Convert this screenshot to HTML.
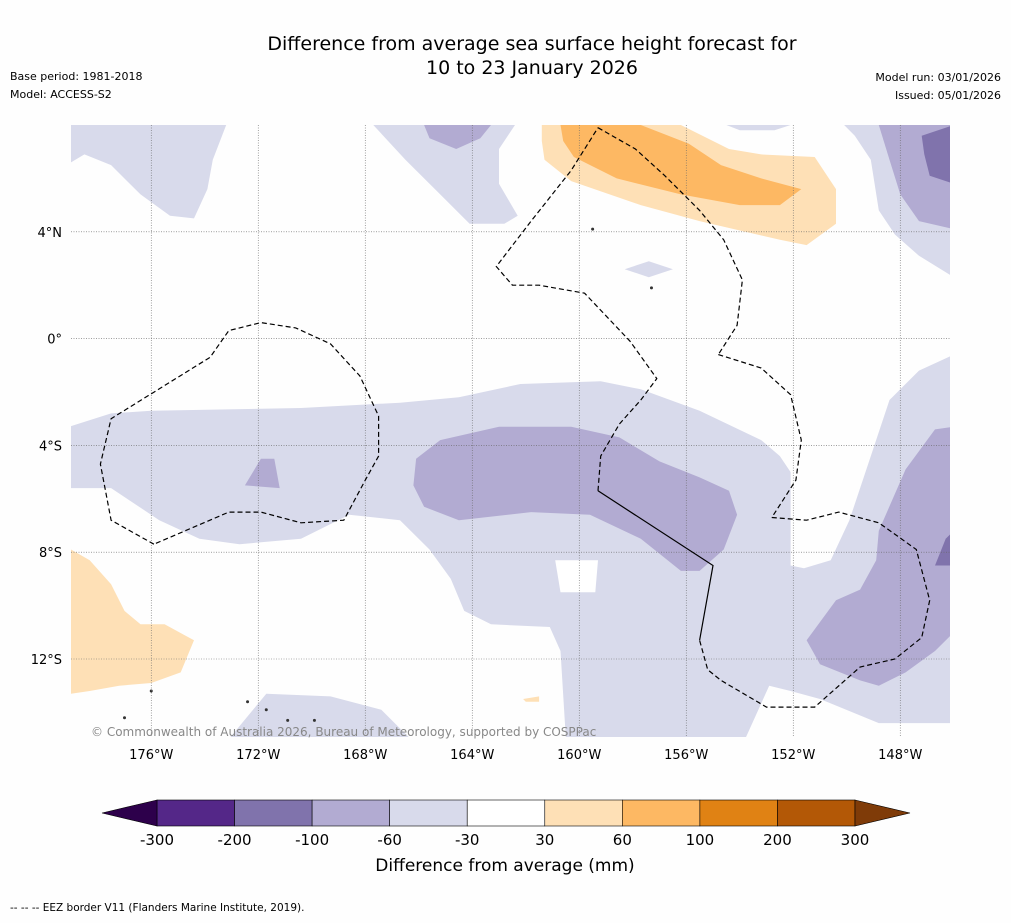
<!DOCTYPE html>
<html><head><meta charset="utf-8">
<style>
body{margin:0;background:#fefefe;font-family:"DejaVu Sans","Liberation Sans",sans-serif;}
svg text{font-family:"DejaVu Sans","Liberation Sans",sans-serif;}
</style></head>
<body>
<svg id="s" width="1011" height="919" viewBox="0 0 1011 919" xmlns="http://www.w3.org/2000/svg">
<rect width="1011" height="919" fill="#fefefe"/>
<text x="532" y="50" text-anchor="middle" font-size="19" fill="#000">Difference from average sea surface height forecast for</text>
<text x="532" y="74" text-anchor="middle" font-size="19" fill="#000">10 to 23 January 2026</text>
<text x="10" y="80" font-size="11">Base period: 1981-2018</text>
<text x="10" y="98" font-size="11">Model: ACCESS-S2</text>
<text x="1001" y="81" font-size="11" text-anchor="end">Model run: 03/01/2026</text>
<text x="1001" y="99" font-size="11" text-anchor="end">Issued: 05/01/2026</text>
<defs><clipPath id="mc"><rect x="71" y="125" width="879" height="612"/></clipPath></defs>
<g id="map" clip-path="url(#mc)"></g>
<g id="grid"></g>
<g id="eez" clip-path="url(#mc)"></g>
<text x="91" y="736" font-size="12" fill="#888">© Commonwealth of Australia 2026, Bureau of Meteorology, supported by COSPPac</text>
<g id="cbar"></g>
<text x="505" y="871" text-anchor="middle" font-size="17">Difference from average (mm)</text>
<text x="10" y="911" font-size="10.5">--  --  -- EEZ border V11 (Flanders Marine Institute, 2019).</text>
</svg>
<script>
const lonTicks=[-176,-172,-168,-164,-160,-156,-152,-148];
const lonLabels=["176°W","172°W","168°W","164°W","160°W","156°W","152°W","148°W"];
const latTicks=[4,0,-4,-8,-12];
const latLabels=["4°N","0°","4°S","8°S","12°S"];
const levels=[-300,-200,-100,-60,-30,30,60,100,200,300];
const levelColors=["#542788","#8073ac","#b2abd2","#d8daeb","#ffffff","#fee0b6","#fdb863","#e08214","#b35806"];
const extendColors=["#2d004b","#7f3b08"];
const lightRegions=[
[[-179,8],[-173.2,8],[-173.7,6.7],[-173.9,5.6],[-174.4,4.5],[-175.3,4.6],[-176.4,5.4],[-177.5,6.5],[-178.5,6.9],[-179,6.6]],
[[-167.7,8],[-162.4,8],[-163.0,7.1],[-163.0,5.8],[-162.3,4.6],[-162.8,4.3],[-164.1,4.3],[-165.2,5.4],[-166.5,6.7]],
[[-154.5,8],[-152.1,8],[-152.7,7.8],[-154.0,7.8]],
[[-150.1,8],[-146,8],[-146,2.3],[-147.3,3.1],[-148.2,3.9],[-148.8,4.8],[-149.1,6.7],[-149.7,7.6]],
[[-158.3,2.6],[-157.4,2.9],[-156.5,2.6],[-157.4,2.3]],
[[-180,-3.6],[-177.5,-2.8],[-176.0,-2.7],[-170.4,-2.6],[-166.7,-2.4],[-164.5,-2.2],[-162.2,-1.7],[-159.2,-1.6],[-157.7,-1.9],[-155.5,-2.7],[-153.2,-3.8],[-152.5,-4.4],[-152.1,-5.0],[-152.1,-8.5],[-151.6,-8.6],[-150.6,-8.3],[-149.9,-6.8],[-149.1,-4.4],[-148.4,-2.3],[-147.3,-1.2],[-146,-0.6],[-146,-14.4],[-148.8,-14.4],[-151.0,-13.5],[-152.1,-13.2],[-152.9,-13.0],[-153.8,-15],[-160.5,-15],[-160.7,-11.7],[-161.1,-10.8],[-163.3,-10.7],[-164.3,-10.2],[-164.8,-9.0],[-165.6,-7.9],[-166.7,-6.8],[-168.6,-6.6],[-170.4,-7.5],[-172.7,-7.7],[-174.2,-7.5],[-175.7,-6.8],[-177.5,-5.6],[-180,-5.6]],
[[-173.1,-15],[-171.7,-13.3],[-169.3,-13.4],[-167.4,-13.9],[-166.3,-15]]
];
const holeRegions=[
[[-160.9,-8.3],[-159.3,-8.3],[-159.4,-9.5],[-160.7,-9.5]]
];
const midRegions=[
[[-165.8,8],[-163.3,8],[-163.7,7.5],[-164.6,7.1],[-165.6,7.5]],
[[-148.8,8],[-146,8],[-146,4.1],[-147.3,4.4],[-148.0,5.4],[-148.4,6.7]],
[[-166.1,-4.5],[-165.2,-3.8],[-163.0,-3.3],[-160.3,-3.3],[-158.5,-3.7],[-157.0,-4.6],[-155.5,-5.2],[-154.4,-5.7],[-154.1,-6.6],[-154.6,-7.9],[-155.5,-8.7],[-156.2,-8.7],[-157.7,-7.5],[-159.6,-6.6],[-161.8,-6.5],[-164.5,-6.8],[-165.8,-6.3],[-166.2,-5.5]],
[[-172.5,-5.5],[-171.9,-4.5],[-171.4,-4.5],[-171.2,-5.6]],
[[-151.5,-11.3],[-150.4,-9.8],[-149.5,-9.4],[-148.9,-8.3],[-148.8,-7.2],[-147.8,-4.9],[-146.7,-3.4],[-146,-3.3],[-146,-11.0],[-146.7,-11.7],[-147.8,-12.5],[-148.8,-13.0],[-149.5,-12.8],[-151.0,-12.2]]
];
const darkRegions=[
[[-147.2,7.6],[-146,8],[-146,5.8],[-146.9,6.1],[-147.1,6.9]],
[[-146.7,-8.5],[-146.3,-7.5],[-146,-7.2],[-146,-8.5]]
];
const orangeLight=[
[[-161.4,8],[-156.2,8],[-154.4,7.1],[-153.2,6.9],[-151.2,6.8],[-150.4,5.6],[-150.4,4.3],[-151.5,3.5],[-152.5,3.7],[-155.5,4.4],[-157.7,5.0],[-160.3,5.9],[-161.3,6.7],[-161.4,7.4]],
[[-179,-7.9],[-178.3,-8.3],[-177.5,-9.2],[-177.0,-10.2],[-176.4,-10.7],[-175.5,-10.7],[-174.4,-11.3],[-174.9,-12.5],[-176.0,-12.9],[-177.2,-13.0],[-178.3,-13.2],[-179,-13.3]],
[[-162.1,-13.5],[-161.5,-13.4],[-161.5,-13.6],[-162.0,-13.6]]
];
const orangeMid=[
[[-160.7,8],[-157.7,8],[-155.9,7.3],[-154.7,6.5],[-153.2,6.0],[-151.7,5.6],[-152.5,5.0],[-154.0,5.0],[-156.2,5.4],[-158.6,6.0],[-160.2,6.8],[-160.6,7.4]]
];
const eezDashed=[
[[-175.9,-7.7],[-177.5,-6.8],[-177.9,-4.7],[-177.5,-3.0],[-173.8,-0.7],[-173.1,0.3],[-171.9,0.6],[-170.6,0.4],[-169.3,-0.2],[-168.2,-1.4],[-167.5,-2.9],[-167.5,-4.4],[-168.0,-5.3],[-168.8,-6.8],[-170.4,-6.9],[-171.9,-6.5],[-173.1,-6.5],[-175.9,-7.7]],
[[-159.3,7.9],[-157.9,7.1],[-156.8,6.1],[-155.5,4.8],[-154.6,3.7],[-153.9,2.2],[-154.1,0.5],[-154.8,-0.6]],
[[-154.8,-0.6],[-153.2,-1.1],[-152.1,-2.1],[-151.7,-3.8],[-151.9,-5.3],[-152.8,-6.7]],
[[-152.8,-6.7],[-151.5,-6.8],[-150.3,-6.5],[-148.8,-6.9],[-147.4,-7.9],[-146.9,-9.8],[-147.2,-11.2],[-148.2,-12.0],[-149.5,-12.3],[-151.2,-13.8],[-153.0,-13.8],[-154.7,-12.8],[-155.2,-12.4],[-155.5,-11.3]],
[[-159.3,-5.7],[-159.2,-4.4],[-158.5,-3.2],[-157.7,-2.3],[-157.1,-1.5],[-158.1,-0.1],[-159.8,1.7],[-161.5,2.0],[-162.5,2.0],[-163.1,2.7],[-161.8,4.4],[-160.3,6.3],[-159.3,7.9]]
];
const eezSolid=[[[-155.5,-11.3],[-155.0,-8.5],[-159.3,-5.7]]];
const islands=[[-172.4,-13.6],[-171.7,-13.9],[-157.3,1.9],[-159.5,4.1],[-176.0,-13.2],[-169.9,-14.3],[-170.9,-14.3],[-177.0,-14.2]];

const NS="http://www.w3.org/2000/svg";
function X(lon){return 71+(lon+179)*26.75;}
function Y(lat){return 125+(8-lat)*26.7;}
function pts(a){return a.map(p=>X(p[0]).toFixed(1)+","+Y(p[1]).toFixed(1)).join(" ");}
const map=document.getElementById('map');
function poly(arr,fill,name){arr.forEach(a=>{const p=document.createElementNS(NS,'polygon');p.setAttribute('points',pts(a));p.setAttribute('fill',fill);


map.appendChild(p);});}
poly(lightRegions,levelColors[3],'anomaly-region-light');
poly(holeRegions,'#ffffff','anomaly-region-neutral');
poly(midRegions,levelColors[2],'anomaly-region-medium');
poly(darkRegions,levelColors[1],'anomaly-region-dark');
poly(orangeLight,levelColors[5],'anomaly-region-positive-light');
poly(orangeMid,levelColors[6],'anomaly-region-positive');
islands.forEach(d=>{const c=document.createElementNS(NS,'circle');c.setAttribute('cx',X(d[0]));c.setAttribute('cy',Y(d[1]));c.setAttribute('r',1.5);c.setAttribute('fill','#333');


map.appendChild(c);});
const eez=document.getElementById('eez');
function line(arr,dash,name){arr.forEach(a=>{const p=document.createElementNS(NS,'polyline');p.setAttribute('points',pts(a));p.setAttribute('fill','none');p.setAttribute('stroke','#000');p.setAttribute('stroke-width','1.2');if(dash)p.setAttribute('stroke-dasharray','5,3');


eez.appendChild(p);});}
line(eezDashed,true,'eez-border-dashed');
line(eezSolid,false,'eez-border-solid');
const grid=document.getElementById('grid');
lonTicks.forEach((t,i)=>{const l=document.createElementNS(NS,'line');l.setAttribute('x1',X(t));l.setAttribute('x2',X(t));l.setAttribute('y1',125);l.setAttribute('y2',737);l.setAttribute('stroke','#666');l.setAttribute('stroke-width','0.6');l.setAttribute('stroke-dasharray','1,1.5');


grid.appendChild(l);
const tx=document.createElementNS(NS,'text');tx.setAttribute('x',X(t));tx.setAttribute('y',759);tx.setAttribute('text-anchor','middle');tx.setAttribute('font-size','13');tx.textContent=lonLabels[i];


grid.appendChild(tx);});
latTicks.forEach((t,i)=>{const l=document.createElementNS(NS,'line');l.setAttribute('x1',71);l.setAttribute('x2',950);l.setAttribute('y1',Y(t));l.setAttribute('y2',Y(t));l.setAttribute('stroke','#666');l.setAttribute('stroke-width','0.6');l.setAttribute('stroke-dasharray','1,1.5');


grid.appendChild(l);
const tx=document.createElementNS(NS,'text');tx.setAttribute('x',62);tx.setAttribute('y',Y(t)+5);tx.setAttribute('text-anchor','end');tx.setAttribute('font-size','13');tx.textContent=latLabels[i];


grid.appendChild(tx);});
const cb=document.getElementById('cbar');
const cbL=157,cbR=855,cbT=800,cbB=826,n=levelColors.length,w=(cbR-cbL)/n;
function CX(i){return cbL+i*w;}
levelColors.forEach((c,i)=>{const r=document.createElementNS(NS,'rect');r.setAttribute('x',CX(i));r.setAttribute('y',cbT);r.setAttribute('width',w);r.setAttribute('height',cbB-cbT);r.setAttribute('fill',c);r.setAttribute('stroke','#000');r.setAttribute('stroke-width','0.6');


cb.appendChild(r);});
const tl=document.createElementNS(NS,'polygon');tl.setAttribute('points',`${cbL},${cbT} 102,${(cbT+cbB)/2} ${cbL},${cbB}`);tl.setAttribute('fill',extendColors[0]);tl.setAttribute('stroke','#000');tl.setAttribute('stroke-width','0.6');


cb.appendChild(tl);
const tr=document.createElementNS(NS,'polygon');tr.setAttribute('points',`${cbR},${cbT} 910,${(cbT+cbB)/2} ${cbR},${cbB}`);tr.setAttribute('fill',extendColors[1]);tr.setAttribute('stroke','#000');tr.setAttribute('stroke-width','0.6');


cb.appendChild(tr);
levels.forEach((v,i)=>{const tx=document.createElementNS(NS,'text');tx.setAttribute('x',CX(i));tx.setAttribute('y',845);tx.setAttribute('text-anchor','middle');tx.setAttribute('font-size','15');tx.textContent=v;


cb.appendChild(tx);});
</script>
</body></html>
